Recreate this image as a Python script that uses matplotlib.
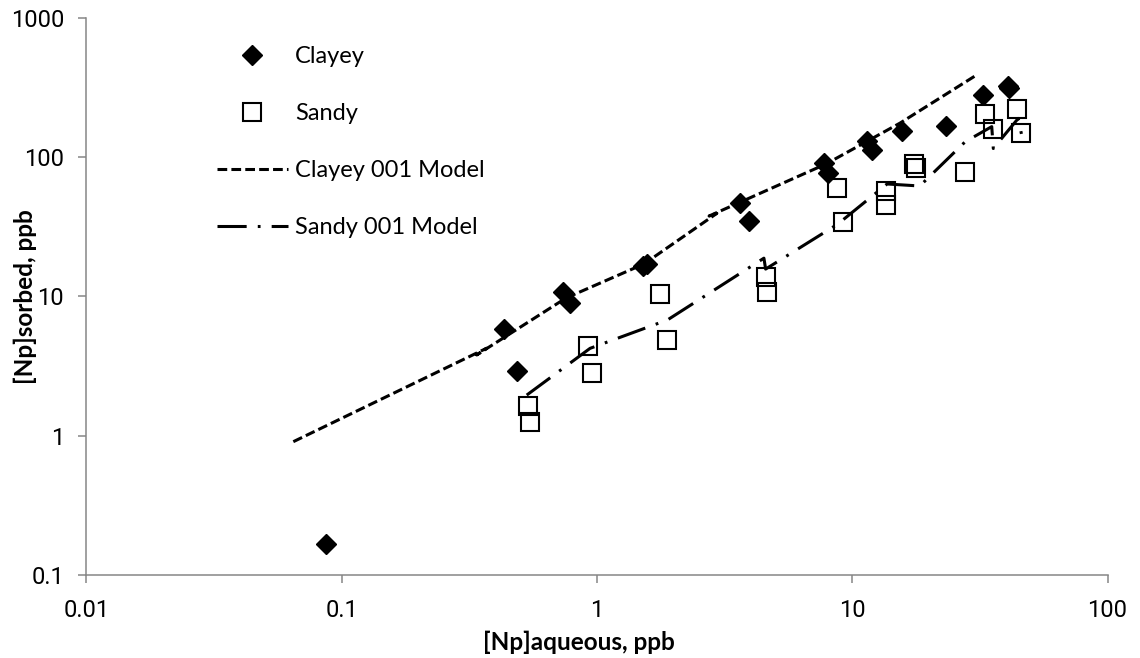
import matplotlib
matplotlib.use("Agg")
import matplotlib.pyplot as plt

plt.rcParams['font.family'] = ['Lato', 'DejaVu Sans']
plt.rcParams['lines.scale_dashes'] = False

# measured sorption data, [Np] in ppb
clayey_aq = [0.0866, 0.432, 0.485, 0.738, 0.785, 1.51, 1.57, 3.63, 3.95,
             7.76, 8.06, 11.4, 12.0, 15.6, 23.3, 32.4, 40.9, 41.3]
clayey_sorb = [0.167, 5.81, 2.93, 10.8, 8.92, 16.4, 17.2, 46.5, 34.7,
               91.0, 76.4, 130, 113, 154, 167, 278, 325, 312]

sandy_aq = [0.538, 0.547, 0.925, 0.955, 1.77, 1.89, 4.59, 4.65, 8.75, 9.18,
            13.6, 13.6, 17.5, 17.8, 27.7, 33.1, 35.5, 44.1, 45.8]
sandy_sorb = [1.64, 1.26, 4.41, 2.84, 10.4, 4.87, 13.7, 10.7, 60.2, 34.0,
              57.0, 45.2, 88.5, 82.9, 77.6, 203, 158, 221, 148]

# model curves (001 parameter set)
clayey_model_aq = [0.0647, 0.370, 0.338, 0.757, 1.53, 2.95, 2.75, 7.89, 15.4, 30.7]
clayey_model_sorb = [0.908, 4.25, 3.80, 9.74, 17.1, 39.4, 37.7, 89.0, 175, 387]

sandy_model_aq = [0.531, 0.94, 1.89, 4.51, 4.58, 8.78, 13.7, 18.4, 27.7,
                  35.2, 35.7, 44.7, 46.1]
sandy_model_sorb = [1.96, 4.24, 6.78, 18.8, 15.7, 33.0, 64.0, 61.9, 128.5,
                    165, 115, 189, 143.6]

xticks = [0.01, 0.1, 1, 10, 100]
xtick_labels = ['0.01', '0.1', '1', '10', '100']
yticks = [0.1, 1, 10, 100, 1000]
ytick_labels = ['0.1', '1', '10', '100', '1000']

fig = plt.figure(figsize=(11.4, 6.58), dpi=100)
ax = fig.add_axes([0.0757, 0.1257, 0.8958, 0.8477])

ax.plot(clayey_aq, clayey_sorb, linestyle='none', marker='D', ms=10,
        color='black', label='Clayey')
ax.plot(sandy_aq, sandy_sorb, linestyle='none', marker='s', ms=13,
        markerfacecolor='none', markeredgecolor='black', mew=1.5, label='Sandy')
ax.plot(clayey_model_aq, clayey_model_sorb, color='black', lw=2.2,
        dashes=(7, 3), label='Clayey 001 Model')
ax.plot(sandy_model_aq, sandy_model_sorb, color='black', lw=2.2,
        dashes=(21, 8, 2, 8), label='Sandy 001 Model')

ax.set_xscale('log')
ax.set_yscale('log')
ax.set_xlim(0.01, 100)
ax.set_ylim(0.1, 1000)
ax.set_xticks(xticks)
ax.set_xticklabels(xtick_labels)
ax.set_yticks(yticks)
ax.set_yticklabels(ytick_labels)
ax.minorticks_off()
for lab in ax.get_xticklabels() + ax.get_yticklabels():
    lab.set_fontfamily(['Roboto', 'DejaVu Sans'])

for s in ['top', 'right']:
    ax.spines[s].set_visible(False)
for s in ['left', 'bottom']:
    ax.spines[s].set_color('#868686')
    ax.spines[s].set_linewidth(1.1)
ax.tick_params(axis='both', direction='out', length=6, width=1.1,
               color='#868686', labelsize=17, labelcolor='black')
ax.tick_params(axis='x', pad=11)
ax.tick_params(axis='y', pad=10)

ax.set_xlabel('[Np]aqueous, ppb', fontsize=17.5, fontweight='bold')
ax.xaxis.label.set_va('center')
ax.xaxis.set_label_coords(0.482, -0.12)
ax.set_ylabel('[Np]sorbed, ppb', fontsize=17.5, fontweight='bold')
ax.yaxis.label.set_va('center')
ax.yaxis.set_label_coords(-0.06, 0.5)

ax.legend(loc='upper left', bbox_to_anchor=(217 / 1140, 1 - 46 / 658),
          bbox_transform=fig.transFigure, frameon=False, fontsize=17,
          numpoints=1, handlelength=3.0, handletextpad=0.3,
          labelspacing=1.53, borderpad=0, borderaxespad=0)

fig.savefig('out.png', dpi=100)
